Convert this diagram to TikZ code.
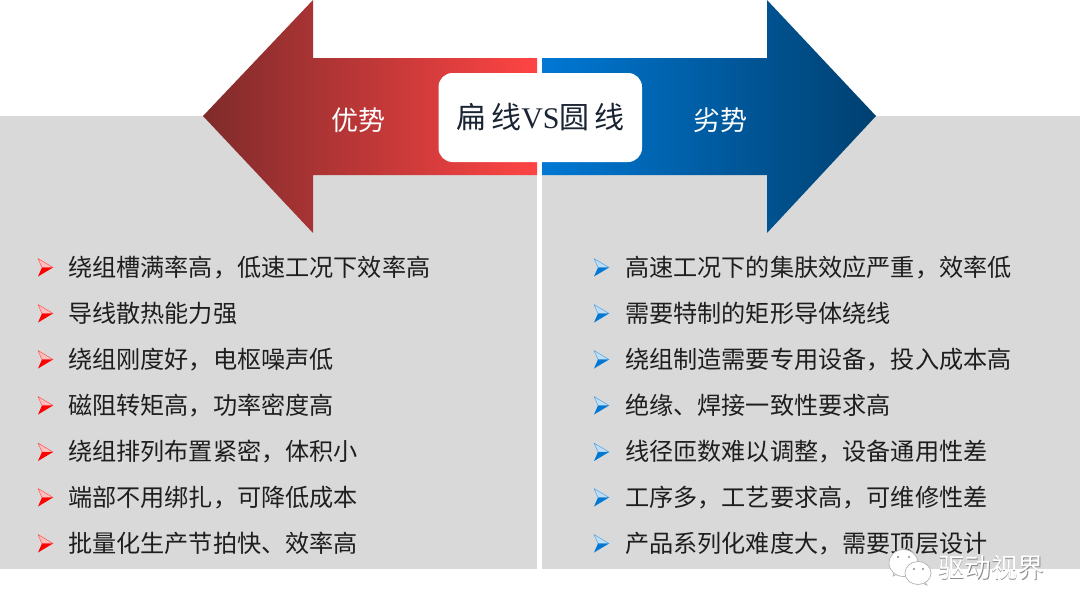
\documentclass[tikz,border=0pt]{standalone}
\usepackage{fontspec}
\setmainfont{Noto Sans CJK SC}
\newfontfamily\vsfont{Liberation Serif}
\definecolor{panelgray}{HTML}{D9D9D9}
\definecolor{reddark}{HTML}{7F2B2B}
\definecolor{redmid}{HTML}{D83C3C}
\definecolor{redlight}{HTML}{FF4444}
\definecolor{bluedark}{HTML}{004070}
\definecolor{bluemid}{HTML}{0068B4}
\definecolor{bluelight}{HTML}{0078D4}
\definecolor{inktext}{HTML}{1E1E1E}
\definecolor{titleink}{HTML}{1B2433}
\tikzset{
  x=1pt,y=-1pt,
  panel/.style={fill=panelgray,draw=none},
  itemtext/.style={anchor=west,inner sep=0pt,text=inktext,font=\fontsize{24.15}{24}\selectfont},
  armlabel/.style={inner sep=0pt,text=white,font=\fontsize{27}{27}\selectfont},
  markupper/.style={fill=#1!25!white,draw=#1!70!white,line width=0.5pt,line join=round},
  marklower/.style={fill=#1,draw=none},
  bubble/.style={fill=white,draw=black!30,line width=0.7pt},
}
\newcommand{\itemmark}[3]{%
  \fill[markupper=#3] (#1,#2-9) -- (#1+15,#2) -- (#1+4,#2) -- cycle;
  \fill[marklower=#3] (#1,#2+9) -- (#1+15,#2) -- (#1+4,#2) -- cycle;
}
\begin{document}
\begin{tikzpicture}
\useasboundingbox (0,0) rectangle (1080,616);
\fill[white] (0,0) rectangle (1080,616);
\path[panel] (0,116) rectangle (537,569);
\path[panel] (542,116) rectangle (1080,569);
% arrows
\shade[left color=reddark,middle color=redmid,right color=redlight]
  (203,116) -- (313,0) -- (313,58) -- (537,58) -- (537,175) -- (313,175) -- (313,233) -- cycle;
\shade[left color=bluelight,middle color=bluemid,right color=bluedark]
  (876,116) -- (767,0) -- (767,58) -- (542,58) -- (542,175) -- (767,175) -- (767,233) -- cycle;
% title box
\fill[white,rounded corners=14pt] (438.5,73) rectangle (642,162);
\node[inner sep=0pt,text=titleink] (title) at (540.5,117)
  {\fontsize{30}{30}\selectfont 扁\,线{\vsfont VS}圆\,线};
\node[armlabel] (adv) at (358.5,120) {优势};
\node[armlabel] (dis) at (720,120) {劣势};
% left list
\foreach \yy/\tx [count=\i] in {
  267.5/绕组槽满率高，低速工况下效率高,
  313.5/导线散热能力强,
  359.5/绕组刚度好，电枢噪声低,
  405.5/磁阻转矩高，功率密度高,
  452/绕组排列布置紧密，体积小,
  497.5/端部不用绑扎，可降低成本,
  543.5/批量化生产节拍快、效率高}{
  \itemmark{38}{\yy}{red}
  \node[itemtext] (l\i) at (68,\yy) {\tx};
}
% right list
\foreach \yy/\tx [count=\i] in {
  267.5/高速工况下的集肤效应严重，效率低,
  313.5/需要特制的矩形导体绕线,
  359.5/绕组制造需要专用设备，投入成本高,
  405.5/绝缘、焊接一致性要求高,
  452/线径匝数难以调整，设备通用性差,
  497.5/工序多，工艺要求高，可维修性差,
  543.5/产品系列化难度大，需要顶层设计}{
  \itemmark{594}{\yy}{bluelight}
  \node[itemtext] (r\i) at (625,\yy) {\tx};
}
% watermark
\draw[bubble] (893,576) -- (896,566) -- (904,571) -- cycle;
\draw[bubble] (903.5,563) ellipse [x radius=14.5,y radius=13.5];
\fill[black!45] (898,557) circle (1.2) (909,557) circle (1.2);
\draw[bubble] (927,585) -- (921,577) -- (916,581) -- cycle;
\draw[bubble] (918,573) ellipse [x radius=13,y radius=11.5];
\fill[black!45] (914,569) circle (1.1) (923,569) circle (1.1);
\node[inner sep=0pt,text=black!45,font=\fontsize{26.5}{26.5}\selectfont] (wm2) at (991.8,568.8) {驱动视界};
\node[inner sep=0pt,text=white,font=\fontsize{26.5}{26.5}\selectfont] (wm) at (991,568) {驱动视界};
\end{tikzpicture}
\end{document}
